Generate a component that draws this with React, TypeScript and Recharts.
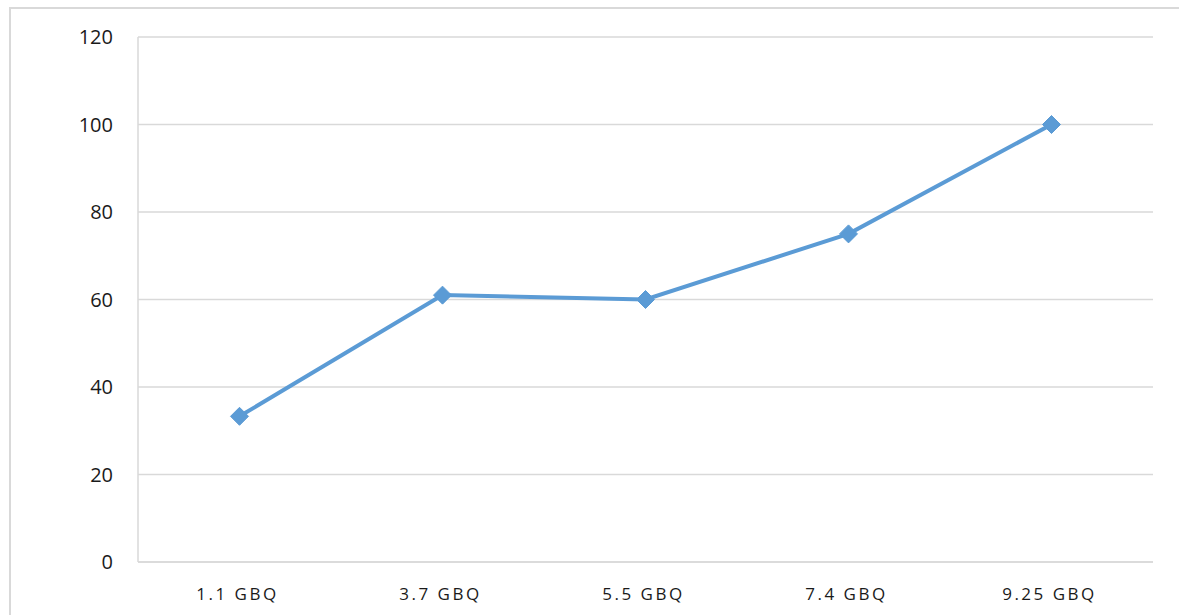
import React from 'react';
import { LineChart, Line, XAxis, YAxis, CartesianGrid } from 'recharts';

const categories = ['1.1 GBQ', '3.7 GBQ', '5.5 GBQ', '7.4 GBQ', '9.25 GBQ'];
const values = [33.3, 61, 60, 75, 100];
const yTicks = [0, 20, 40, 60, 80, 100, 120];

const data = categories.map((c, i) => ({ name: c, value: values[i] }));

const LINE_COLOR = '#5B9BD5';
const GRID = '#d9d9d9';
const TEXT = '#1a1a1a';
const FONT = '"Open Sans", "Liberation Sans", sans-serif';

const Diamond = (props: any) => {
  const { cx, cy } = props;
  if (cx == null || cy == null) return null;
  const r = 9;
  return (
    <path
      d={`M${cx},${cy - r} L${cx + r},${cy} L${cx},${cy + r} L${cx - r},${cy} Z`}
      fill={LINE_COLOR}
      stroke={LINE_COLOR}
      strokeWidth={1}
    />
  );
};

const XTick = (props: any) => {
  const { x, y, payload } = props;
  return (
    <text
      x={x - 2}
      y={y + 36}
      textAnchor="middle"
      fontSize={17}
      fill={TEXT}
      fontFamily={FONT}
      style={{ letterSpacing: '2.5px' }}
    >
      {payload.value}
    </text>
  );
};

export default function App() {
  return (
    <div style={{ position: 'absolute', left: 0, top: 0, width: 1179, height: 615, background: '#fff', overflow: 'hidden' }}>
      <div
        style={{
          position: 'absolute',
          left: 9,
          top: 7,
          width: 1300,
          height: 700,
          borderLeft: `2px solid ${GRID}`,
          borderTop: `2px solid ${GRID}`,
        }}
      />
      <div style={{ position: 'absolute', left: 0, top: 0 }}>
        <LineChart
          width={1179}
          height={615}
          data={data}
          margin={{ top: 37, right: 26, bottom: 0, left: 0 }}
        >
          <CartesianGrid vertical={false} stroke={GRID} strokeWidth={1.5} />
          <XAxis
            dataKey="name"
            scale="band"
            height={53}
            tickLine={false}
            tickSize={0}
            axisLine={{ stroke: GRID, strokeWidth: 1.5 }}
            tick={<XTick />}
            interval={0}
          />
          <YAxis
            width={138}
            domain={[0, 120]}
            ticks={yTicks}
            tickLine={false}
            tickSize={0}
            tickMargin={25}
            axisLine={{ stroke: GRID, strokeWidth: 1.5 }}
            tick={{ fontSize: 20, fill: TEXT, fontFamily: FONT }}
          />
          <Line
            type="linear"
            dataKey="value"
            stroke={LINE_COLOR}
            strokeWidth={4}
            dot={<Diamond />}
            activeDot={false}
            isAnimationActive={false}
          />
        </LineChart>
      </div>
    </div>
  );
}
